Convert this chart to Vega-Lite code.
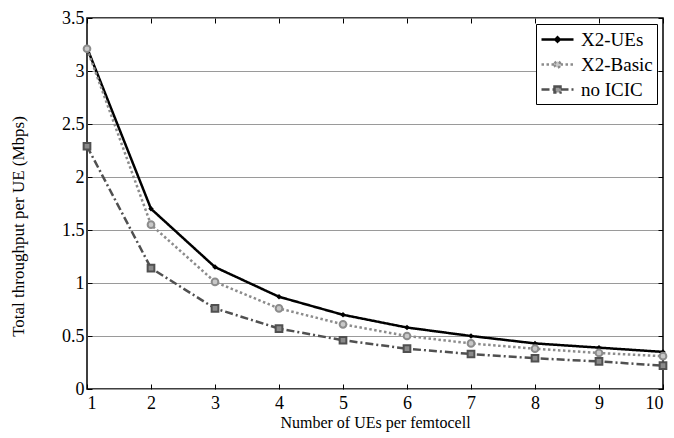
{
  "$schema": "https://vega.github.io/schema/vega-lite/v6.json",
  "width": 576,
  "height": 371,
  "autosize": "none",
  "padding": {"left": 87, "top": 18, "right": 11, "bottom": 49},
  "background": "white",
  "config": {
    "font": "Liberation Serif",
    "view": {"stroke": "black", "strokeWidth": 1.5},
    "axis": {"labelFont": "Liberation Serif", "titleFont": "Liberation Serif", "labelFontSize": 18, "titleFontSize": 16, "titleFontWeight": "normal", "labelColor": "black", "titleColor": "black", "domain": false, "tickColor": "black", "tickSize": -5, "tickWidth": 1}
  },
  "data": {"values": [
    {"n": 1, "s": "X2-UEs", "v": 3.22}, {"n": 2, "s": "X2-UEs", "v": 1.70}, {"n": 3, "s": "X2-UEs", "v": 1.15}, {"n": 4, "s": "X2-UEs", "v": 0.87}, {"n": 5, "s": "X2-UEs", "v": 0.70}, {"n": 6, "s": "X2-UEs", "v": 0.58}, {"n": 7, "s": "X2-UEs", "v": 0.50}, {"n": 8, "s": "X2-UEs", "v": 0.43}, {"n": 9, "s": "X2-UEs", "v": 0.39}, {"n": 10, "s": "X2-UEs", "v": 0.35},
    {"n": 1, "s": "X2-Basic", "v": 3.21}, {"n": 2, "s": "X2-Basic", "v": 1.55}, {"n": 3, "s": "X2-Basic", "v": 1.01}, {"n": 4, "s": "X2-Basic", "v": 0.76}, {"n": 5, "s": "X2-Basic", "v": 0.61}, {"n": 6, "s": "X2-Basic", "v": 0.50}, {"n": 7, "s": "X2-Basic", "v": 0.43}, {"n": 8, "s": "X2-Basic", "v": 0.38}, {"n": 9, "s": "X2-Basic", "v": 0.34}, {"n": 10, "s": "X2-Basic", "v": 0.31},
    {"n": 1, "s": "no ICIC", "v": 2.29}, {"n": 2, "s": "no ICIC", "v": 1.14}, {"n": 3, "s": "no ICIC", "v": 0.76}, {"n": 4, "s": "no ICIC", "v": 0.57}, {"n": 5, "s": "no ICIC", "v": 0.46}, {"n": 6, "s": "no ICIC", "v": 0.38}, {"n": 7, "s": "no ICIC", "v": 0.33}, {"n": 8, "s": "no ICIC", "v": 0.29}, {"n": 9, "s": "no ICIC", "v": 0.26}, {"n": 10, "s": "no ICIC", "v": 0.22}
  ]},
  "resolve": {"axis": {"x": "independent", "y": "independent"}},
  "layer": [
    {
      "mark": {"type": "line", "strokeWidth": 2.5},
      "encoding": {
        "x": {"field": "n", "type": "quantitative", "scale": {"domain": [1, 10], "nice": false}, "axis": {"orient": "bottom", "title": "Number of UEs per femtocell", "values": [1,2,3,4,5,6,7,8,9,10], "grid": false, "labelPadding": 10, "titlePadding": 2}},
        "y": {"field": "v", "type": "quantitative", "scale": {"domain": [0, 3.5], "nice": false}, "axis": {"orient": "left", "title": "Total throughput per UE (Mbps)", "titleFontSize": 17, "titleY": 208, "format": "~g", "values": [0,0.5,1,1.5,2,2.5,3,3.5], "grid": true, "gridColor": "#9a9a9a", "gridWidth": 1.2, "gridOpacity": 1, "labelPadding": 8, "titlePadding": 34}},
        "color": {"field": "s", "type": "nominal", "sort": ["X2-UEs", "X2-Basic", "no ICIC"], "scale": {"domain": ["X2-UEs", "X2-Basic", "no ICIC"], "range": ["#000000", "#8c8c8c", "#505050"]}, "legend": {"title": null, "orient": "top-right", "offset": 6, "strokeColor": "black", "fillColor": "white", "padding": 4, "labelFont": "Liberation Serif", "labelFontSize": 19, "labelColor": "black", "labelOffset": 12, "symbolOffset": 6, "symbolSize": 400, "symbolStrokeWidth": 2.5, "rowPadding": 3, "symbolType": "M-1.6,0H1.6", "encode": {"symbols": {"update": {"shape": {"signal": "datum.value === 'X2-UEs' ? 'M-1.6,0H1.6M-0.22,0L0,-0.22L0.22,0L0,0.22Z' : datum.value === 'X2-Basic' ? 'M-1.6,0H-0.3M0.3,0H1.6M-0.3,0A0.3,0.3 0 1,0 0.3,0A0.3,0.3 0 1,0 -0.3,0Z' : 'M-1.6,0H-0.3M0.3,0H1.6M-0.3,-0.3H0.3V0.3H-0.3Z'"}, "fill": {"signal": "datum.value === 'X2-UEs' ? '#000000' : datum.value === 'X2-Basic' ? '#c8c8c8' : '#9a9a9a'"}, "fillOpacity": {"value": 1}}}}}},
        "strokeDash": {"field": "s", "type": "nominal", "sort": ["X2-UEs", "X2-Basic", "no ICIC"], "scale": {"domain": ["X2-UEs", "X2-Basic", "no ICIC"], "range": [[1, 0], [2.5, 2.5], [8, 3, 2, 3]]}}
      }
    },
    {
      "transform": [{"filter": "datum.s === 'X2-UEs'"}],
      "mark": {"type": "point", "shape": "diamond", "filled": true, "size": 30, "color": "#000000", "opacity": 1},
      "encoding": {
        "x": {"field": "n", "type": "quantitative", "axis": {"orient": "top", "labels": false, "title": null, "values": [1,2,3,4,5,6,7,8,9,10], "grid": false}},
        "y": {"field": "v", "type": "quantitative", "axis": {"orient": "right", "labels": false, "title": null, "values": [0,0.5,1,1.5,2,2.5,3,3.5], "grid": false}}
      }
    },
    {
      "transform": [{"filter": "datum.s === 'X2-Basic'"}],
      "mark": {"type": "point", "shape": "circle", "size": 45, "stroke": "#8c8c8c", "fill": "#c8c8c8", "strokeWidth": 2, "opacity": 1},
      "encoding": {
        "x": {"field": "n", "type": "quantitative", "axis": null},
        "y": {"field": "v", "type": "quantitative", "axis": null}
      }
    },
    {
      "transform": [{"filter": "datum.s === 'no ICIC'"}],
      "mark": {"type": "point", "shape": "square", "size": 45, "stroke": "#505050", "fill": "#8a8a8a", "strokeWidth": 2, "opacity": 1},
      "encoding": {
        "x": {"field": "n", "type": "quantitative", "axis": null},
        "y": {"field": "v", "type": "quantitative", "axis": null}
      }
    }
  ]
}
